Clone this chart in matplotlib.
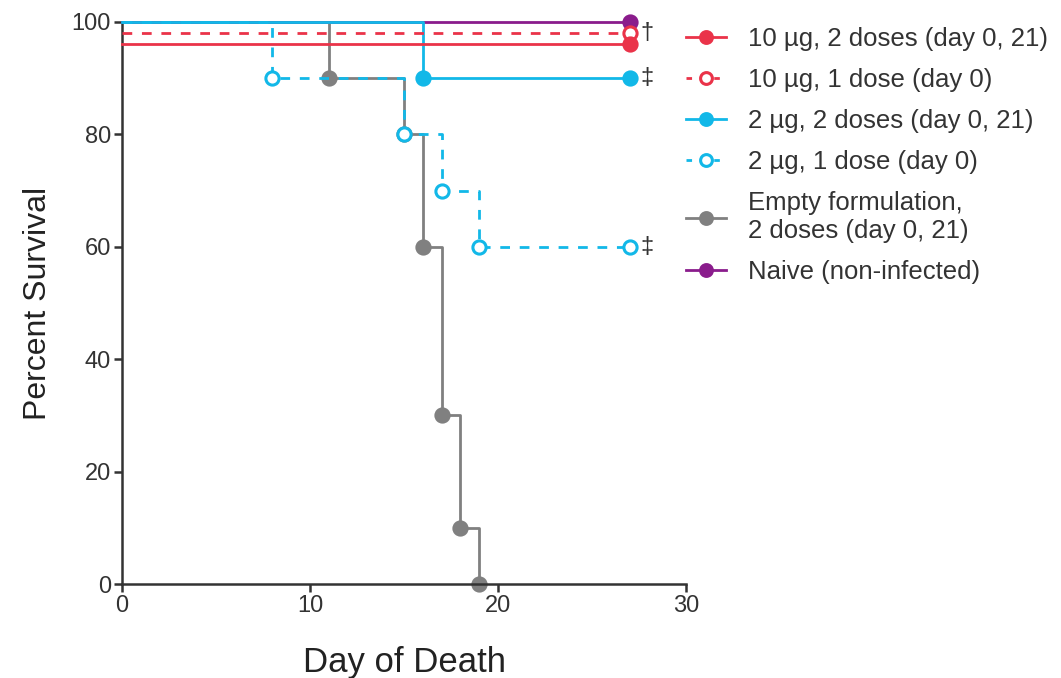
#!/usr/bin/env python3

import matplotlib
matplotlib.use("Agg")
import matplotlib.pyplot as plt

plt.rcParams['font.family'] = ['Liberation Sans', 'DejaVu Sans']

# Kaplan-Meier steps (day, percent survival)
red2_t = [0, 27]
red2_s = [96, 96]
red1_t = [0, 27]
red1_s = [98, 98]
blue2_t = [0, 16, 27]
blue2_s = [100, 90, 90]
blue1_t = [0, 8, 15, 17, 19, 27]
blue1_s = [100, 90, 80, 70, 60, 60]
grey_t = [0, 11, 15, 16, 17, 18, 19]
grey_s = [100, 90, 80, 60, 30, 10, 0]
naive_t = [0, 27]
naive_s = [100, 100]

labels = ["10 \u00b5g, 2 doses (day 0, 21)",
          "10 \u00b5g, 1 dose (day 0)",
          "2 \u00b5g, 2 doses (day 0, 21)",
          "2 \u00b5g, 1 dose (day 0)",
          "Empty formulation,\n2 doses (day 0, 21)",
          "Naive (non-infected)"]

# significance marks: (day, survival, symbol)
marks = [(27, 98, "\u2020"), (27, 90, "\u2021"), (27, 60, "\u2021")]

RED = "#ea3349"
BLUE = "#12b8e8"
GREY = "#808080"
PURPLE = "#8a1c8c"

fig = plt.figure(figsize=(10.61, 6.78), dpi=100)
ax = fig.add_axes([0.115, 0.1386, 0.5316, 0.829])

lw = 2.0
ms = 9.5


def km(t, s, color, ls, filled, z):
    ax.step(t, s, where='post', color=color, lw=lw, ls=ls, zorder=z,
            clip_on=False, dashes=(3.5, 3.5) if ls == '--' else (None, None))
    ax.plot(t[1:], s[1:], ls='none', marker='o', ms=ms, mew=2.2,
            mec=color, mfc=color if filled else 'white', zorder=z + 0.5,
            clip_on=False)
    # legend handle
    h, = ax.plot([], [], color=color, lw=lw, ls=ls, marker='o', ms=8.5,
                 mew=2.2, mec=color, mfc=color if filled else 'white')
    if ls == '--':
        h.set_dashes((2.0, 3.0))
    return h


h5 = km(grey_t, grey_s, GREY, '-', True, 2)
h6 = km(naive_t, naive_s, PURPLE, '-', True, 3)
h4 = km(blue1_t, blue1_s, BLUE, '--', False, 4)
h3 = km(blue2_t, blue2_s, BLUE, '-', True, 5)
h2 = km(red1_t, red1_s, RED, '--', False, 6)
h1 = km(red2_t, red2_s, RED, '-', True, 7)

for d, s, sym in marks:
    ax.text(d + 0.55, s, sym, fontsize=17, color="#333333",
            va='center', ha='left')

ax.set_xlim(0, 30)
ax.set_ylim(0, 100)
ax.set_xticks([0, 10, 20, 30])
ax.set_yticks([0, 20, 40, 60, 80, 100])
for side in ['top', 'right']:
    ax.spines[side].set_visible(False)
for side in ['left', 'bottom']:
    ax.spines[side].set_linewidth(1.8)
    ax.spines[side].set_color("#333333")
ax.tick_params(direction='out', length=6, width=1.8, color="#333333",
               labelsize=17, labelcolor="#333333", pad=2)
ax.set_xlabel("Day of Death", fontsize=25, color="#222222", labelpad=21)
ax.set_ylabel("Percent Survival", fontsize=23, color="#222222", labelpad=13)

fig.legend([h1, h2, h3, h4, h5, h6], labels, loc='upper left',
           bbox_to_anchor=(0.637, 0.976), frameon=False, fontsize=18.5,
           handlelength=1.55, handletextpad=0.85, labelspacing=0.67,
           borderaxespad=0, labelcolor="#333333")

fig.savefig("out.png", dpi=100)
